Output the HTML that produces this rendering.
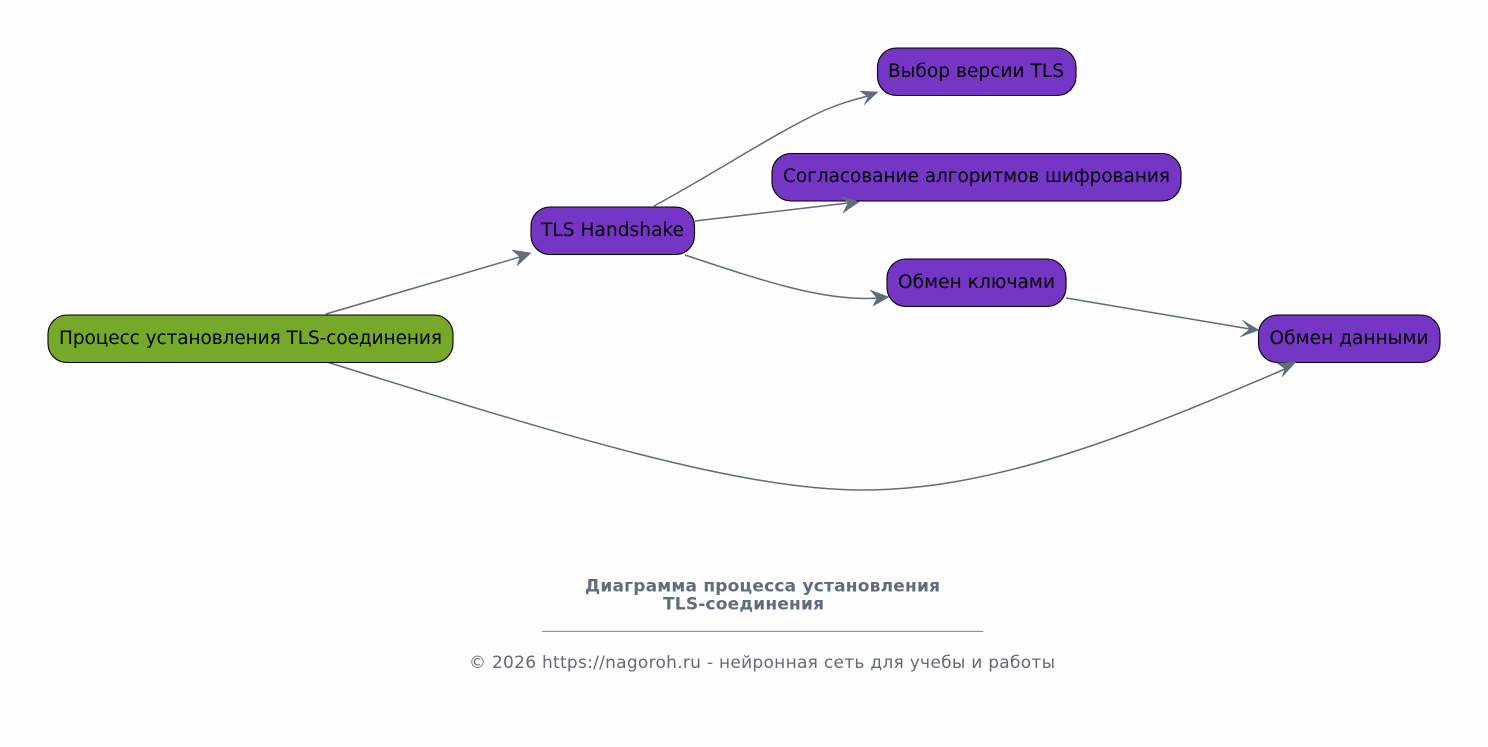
<!DOCTYPE html>
<html><head><meta charset="utf-8">
<style>
html,body{margin:0;padding:0;background:#fdfdfd;}
svg{display:block;}
text{font-family:"DejaVu Sans",sans-serif;}
.n{font-size:18.5px;fill:#000;text-anchor:middle;}
.e{fill:none;stroke:#5f6c7b;stroke-width:1.5;}
.a{fill:#5f6c7b;stroke:#5f6c7b;stroke-width:.5;stroke-linejoin:miter;}
.b{stroke:#000;stroke-width:1.1;}
.f{font-size:17px;fill:#5f6c7b;text-anchor:middle;}
</style></head><body>
<svg width="1488" height="747" viewBox="0 0 1488 747" xmlns="http://www.w3.org/2000/svg">
<rect width="1488" height="747" fill="#fdfdfd"/>
<path class="e" d="M326,314 L520,257"/>
<path class="e" d="M654,206 C720,170 780,130 825,110 C840,103.500 853,100 868,96"/>
<path class="e" d="M695,221 L848,203"/>
<path class="e" d="M685,255 C760,280 825,302 877,298"/>
<path class="e" d="M1066,298 L1250,329"/>
<path class="e" d="M327,362 C560,435 740,490 862,490 C990,490 1120,440 1285,369"/>
<rect class="b" x="48" y="315" width="405" height="47.500" rx="19" fill="#76a829"/>
<text class="n" x="250.500" y="344" textLength="383">Процесс установления TLS-соединения</text>
<rect class="b" x="531" y="207" width="163.500" height="47.500" rx="19" fill="#7535c5"/>
<text class="n" x="612.500" y="236" textLength="143">TLS Handshake</text>
<rect class="b" x="877.500" y="48" width="198.500" height="47.500" rx="19" fill="#7535c5"/>
<text class="n" x="976" y="77" textLength="176">Выбор версии TLS</text>
<rect class="b" x="772" y="153.500" width="409" height="47.500" rx="19" fill="#7535c5"/>
<text class="n" x="976.500" y="182" textLength="387">Согласование алгоритмов шифрования</text>
<rect class="b" x="887" y="259" width="179" height="47.500" rx="19" fill="#7535c5"/>
<text class="n" x="976.500" y="288" textLength="157">Обмен ключами</text>
<rect class="b" x="1258.500" y="315" width="181.500" height="47.500" rx="19" fill="#7535c5"/>
<text class="n" x="1349" y="344" textLength="159">Обмен данными</text>
<polygon class="a" points="531,253 512,250 520,257 517,266"/>
<polygon class="a" points="878,92 860,91 868,97 864,105"/>
<polygon class="a" points="859,202 841,196 848,203 843,213"/>
<polygon class="a" points="889,297 870,290 877,298 873,306"/>
<polygon class="a" points="1259,330 1242,320 1250,329 1240,337"/>
<polygon class="a" points="1296,362 1277,363 1285,369 1282,377"/>
<text class="f" x="762.500" y="591.500" font-weight="bold" textLength="355">Диаграмма процесса установления</text>
<text class="f" x="743.500" y="609.500" font-weight="bold" textLength="161">TLS-соединения</text>
<text class="f" x="762.500" y="628" textLength="441" opacity="0.7">___________________________________________________</text>
<text class="f" x="762" y="668" textLength="586">© 2026 https://nagoroh.ru - нейронная сеть для учебы и работы</text>
</svg>
</body></html>
